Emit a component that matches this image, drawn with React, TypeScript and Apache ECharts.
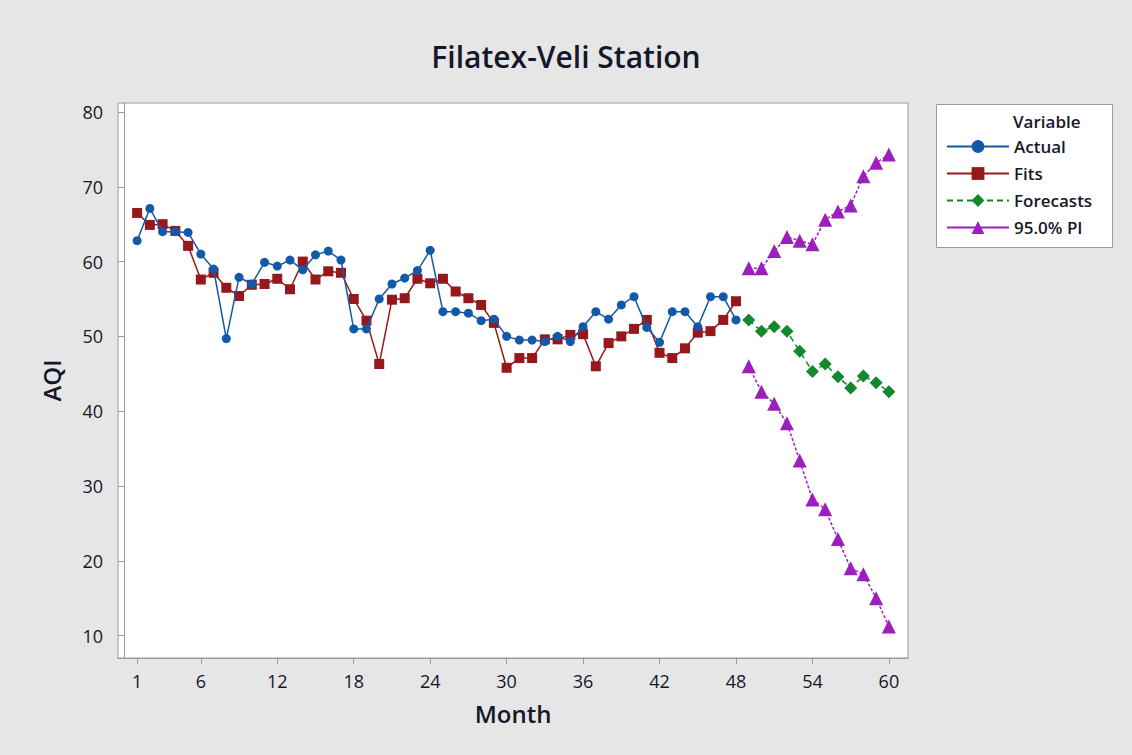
import React, { useEffect, useRef } from "react";
import * as echarts from "echarts";

const actualMonths = Array.from({ length: 48 }, (_, i) => i + 1);
const actual = [
  62.8, 67.1, 64.0, 64.0, 63.9, 61.0, 59.0, 49.7, 57.9, 57.0,
  59.9, 59.4, 60.2, 58.9, 60.9, 61.4, 60.2, 51.0, 51.0, 55.0,
  57.0, 57.8, 58.8, 61.5, 53.3, 53.3, 53.1, 52.1, 52.3, 50.0,
  49.5, 49.5, 49.3, 50.0, 49.3, 51.3, 53.3, 52.3, 54.2, 55.3,
  51.2, 49.2, 53.3, 53.3, 51.3, 55.3, 55.3, 52.2,
];
const fits = [
  66.5, 64.9, 65.0, 64.1, 62.1, 57.6, 58.5, 56.5, 55.4, 56.9,
  57.0, 57.7, 56.3, 60.0, 57.6, 58.7, 58.5, 55.0, 52.1, 46.3,
  54.9, 55.1, 57.7, 57.1, 57.7, 56.0, 55.1, 54.2, 51.8, 45.8,
  47.1, 47.1, 49.6, 49.6, 50.2, 50.3, 46.0, 49.1, 50.0, 51.0,
  52.2, 47.8, 47.1, 48.4, 50.5, 50.7, 52.2, 54.7,
];
const forecastMonths = Array.from({ length: 12 }, (_, i) => i + 49);
const forecasts = [52.2, 50.7, 51.3, 50.7, 48.0, 45.3, 46.3, 44.6, 43.1, 44.7, 43.8, 42.6];
const upperPI = [59.1, 59.1, 61.4, 63.3, 62.8, 62.3, 65.6, 66.7, 67.5, 71.4, 73.2, 74.3];
const lowerPI = [46.0, 42.6, 41.0, 38.4, 33.4, 28.2, 26.9, 22.9, 19.0, 18.2, 15.0, 11.2];

const xTicks = [1, 6, 12, 18, 24, 30, 36, 42, 48, 54, 60];
const yTicks = [10, 20, 30, 40, 50, 60, 70, 80];

const FONT = "'Open Sans', 'Noto Sans', sans-serif";
const C_ACTUAL = "#1259a8";
const C_FITS = "#96181b";
const C_FORE = "#13882c";
const C_PI = "#9c1fbd";
const C_TEXT = "#15172a";

export default function App() {
  const ref = useRef<HTMLDivElement>(null);
  useEffect(() => {
    document.body.style.margin = "0";
    const chart = echarts.init(ref.current!, null, { renderer: "svg" });
    const pair = (ms: number[], vs: number[]) => ms.map((m, i) => [m, vs[i]]);
    chart.setOption({
      animation: false,
      backgroundColor: "#e6e6e6",
      title: {
        text: "Filatex-Veli Station",
        left: "center",
        top: 36,
        textStyle: { fontFamily: FONT, fontSize: 30, fontWeight: 600, color: C_TEXT },
      },
      grid: {
        left: 118,
        top: 103,
        width: 790,
        height: 555,
        show: true,
        backgroundColor: "#ffffff",
        borderColor: "#9a9a9a",
        borderWidth: 1,
      },
      legend: {
        orient: "vertical",
        left: 941,
        top: 133,
        itemWidth: 62,
        itemHeight: 16,
        itemGap: 10,
        data: [
          { name: "Actual" },
          { name: "Fits" },
          { name: "Forecasts" },
          { name: "95.0% PI", lineStyle: { type: "solid" } },
        ],
        textStyle: { fontFamily: FONT, fontSize: 17, fontWeight: 600, color: C_TEXT },
      },
      graphic: [
        {
          type: "rect",
          left: 936,
          top: 104,
          shape: { width: 176, height: 143 },
          style: { fill: "#ffffff", stroke: "#9a9a9a", lineWidth: 1 },
          z: -1,
        },
        {
          type: "text",
          left: 1013,
          top: 113,
          style: { text: "Variable", fontFamily: FONT, fontSize: 17, fontWeight: 600, fill: C_TEXT },
        },
      ],
      xAxis: {
        type: "value",
        min: -0.5,
        max: 61.5,
        name: "Month",
        nameLocation: "middle",
        nameGap: 43,
        nameTextStyle: { fontFamily: FONT, fontSize: 24, fontWeight: 600, color: C_TEXT },
        splitLine: { show: false },
        axisLine: { show: true, lineStyle: { color: "#9a9a9a" } },
        axisTick: { show: true, customValues: xTicks, length: 6, lineStyle: { color: "#9a9a9a" } },
        axisLabel: { customValues: xTicks, fontFamily: FONT, fontSize: 18, color: C_TEXT, margin: 14 },
      },
      yAxis: {
        type: "value",
        min: 7,
        max: 81.2,
        name: "AQI",
        nameLocation: "middle",
        nameRotate: 90,
        nameGap: 55,
        nameTextStyle: { fontFamily: FONT, fontSize: 24, fontWeight: 600, color: C_TEXT },
        splitLine: { show: false },
        axisLine: { show: true, lineStyle: { color: "#9a9a9a" } },
        axisTick: { show: true, customValues: yTicks, length: 6, lineStyle: { color: "#9a9a9a" } },
        axisLabel: { customValues: yTicks, fontFamily: FONT, fontSize: 18, color: C_TEXT, margin: 15 },
      },
      series: [
        {
          name: "Actual",
          type: "line",
          data: pair(actualMonths, actual),
          symbol: "circle",
          symbolSize: 9,
          itemStyle: { color: C_ACTUAL },
          lineStyle: { color: C_ACTUAL, width: 1.5 },
          z: 3,
        },
        {
          name: "Fits",
          type: "line",
          data: pair(actualMonths, fits),
          symbol: "rect",
          symbolSize: 10,
          itemStyle: { color: C_FITS },
          lineStyle: { color: C_FITS, width: 1.5 },
          z: 2,
        },
        {
          name: "Forecasts",
          type: "line",
          data: pair(forecastMonths, forecasts),
          symbol: "diamond",
          symbolSize: 13,
          itemStyle: { color: C_FORE },
          lineStyle: { color: C_FORE, width: 1.5, type: [6, 4] },
          z: 2,
        },
        {
          name: "95.0% PI",
          type: "line",
          data: pair(forecastMonths, upperPI),
          symbol: "triangle",
          symbolSize: 14,
          itemStyle: { color: C_PI },
          lineStyle: { color: C_PI, width: 1.5, type: [3, 2] },
          z: 2,
        },
        {
          name: "95.0% PI",
          type: "line",
          data: pair(forecastMonths, lowerPI),
          symbol: "triangle",
          symbolSize: 14,
          itemStyle: { color: C_PI },
          lineStyle: { color: C_PI, width: 1.5, type: [3, 2] },
          z: 2,
        },
      ],
    });
    return () => chart.dispose();
  }, []);
  return <div ref={ref} style={{ width: 1132, height: 755 }} />;
}
